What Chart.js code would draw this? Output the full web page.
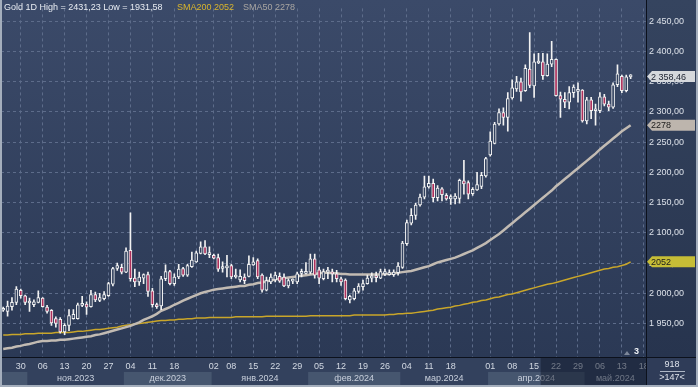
<!DOCTYPE html>
<html>
<head>
<meta charset="utf-8">
<script src="https://cdn.jsdelivr.net/npm/chart.js@4.4.1/dist/chart.umd.min.js"></script>
<style>
  html, body { margin: 0; padding: 0; background: #2f3d59; }
  #wrap { width: 698px; height: 387px; }
</style>
</head>
<body>
<div id="wrap"><canvas id="gold" width="698" height="387"></canvas></div>
<script>
/* ── DATA ─────────────────────────────────────────────── */
const dates = [
  '24.10','25.10','26.10','27.10',
  '30.10','31.10','01.11','02.11','03.11',
  '06.11','07.11','08.11','09.11','10.11',
  '13.11','14.11','15.11','16.11','17.11',
  '20.11','21.11','22.11','23.11','24.11',
  '27.11','28.11','29.11','30.11','01.12',
  '04.12','05.12','06.12','07.12','08.12',
  '11.12','12.12','13.12','14.12','15.12',
  '18.12','19.12','20.12','21.12','22.12',
  '26.12','27.12','28.12','29.12',
  '02.01','03.01','04.01','05.01',
  '08.01','09.01','10.01','11.01','12.01',
  '15.01','16.01','17.01','18.01','19.01',
  '22.01','23.01','24.01','25.01','26.01',
  '29.01','30.01','31.01','01.02','02.02',
  '05.02','06.02','07.02','08.02','09.02',
  '12.02','13.02','14.02','15.02','16.02',
  '19.02','20.02','21.02','22.02','23.02',
  '26.02','27.02','28.02','29.02','01.03',
  '04.03','05.03','06.03','07.03','08.03',
  '11.03','12.03','13.03','14.03','15.03',
  '18.03','19.03','20.03','21.03','22.03',
  '25.03','26.03','27.03','28.03',
  '01.04','02.04','03.04','04.04','05.04',
  '08.04','09.04','10.04','11.04','12.04',
  '15.04','16.04','17.04','18.04','19.04',
  '22.04','23.04','24.04','25.04','26.04',
  '29.04','30.04','01.05','02.05','03.05',
  '06.05','07.05','08.05','09.05','10.05',
  '13.05','14.05','15.05','16.05','17.05','18.05'
];

const opens = [
  1972,1970,1978,1985,2005,1996,1984,1981,1985,1992,
  1977,1972,1958,1957,1936,1947,1958,1958,1980,1982,
  1978,1998,1988,1991,1996,2015,2041,2043,2035,2071,
  2025,2019,2025,2031,2004,1981,1979,2024,2036,2016,
  2027,2041,2030,2044,2052,2066,2077,2064,2063,2059,
  2041,2042,2046,2027,2022,2027,2028,2047,2054,2030,
  2005,2019,2022,2028,2027,2012,2020,2019,2033,2033,
  2035,2057,2039,2024,2035,2034,2032,2024,2022,1989,
  1991,2003,2011,2016,2025,2028,2025,2032,2031,2031,
  2034,2043,2082,2116,2129,2146,2159,2176,2182,2158,
  2173,2162,2156,2156,2157,2186,2183,2165,2171,2177,
  2194,2229,2248,2280,2299,2291,2323,2338,2350,2335,
  2371,2343,2381,2383,2360,2379,2387,2327,2321,2316,
  2332,2334,2336,2285,2320,2302,2302,2325,2313,2308,
  2345,2359,2335,2358
];
const highs = [
  1977,1987,1993,2011,2007,1997,1992,1989,2004,1993,
  1980,1973,1961,1960,1950,1973,1973,1984,1995,1986,
  2005,2002,2000,2003,2018,2043,2050,2048,2075,2133,
  2040,2035,2032,2035,2008,1984,2028,2047,2038,2032,
  2048,2043,2048,2068,2070,2085,2087,2077,2065,2065,
  2052,2063,2048,2040,2039,2032,2062,2059,2057,2032,
  2027,2032,2035,2034,2032,2024,2024,2035,2040,2051,
  2065,2065,2043,2040,2043,2040,2038,2027,2024,1997,
  2008,2016,2022,2030,2034,2035,2040,2040,2039,2039,
  2051,2086,2121,2140,2149,2164,2194,2194,2189,2178,
  2175,2165,2163,2165,2189,2220,2186,2175,2200,2200,
  2225,2267,2283,2305,2307,2332,2353,2359,2356,2378,
  2431.23,2396,2397,2397,2396,2417,2388,2333,2332,2342,
  2345,2348,2337,2324,2324,2313,2332,2329,2318,2348,
  2378,2361,2361,2362
];
const lows = [
  1970,1962,1972,1981,1992,1981,1970,1978,1984,1977,
  1967,1947,1944,1934,1931.58,1938,1957,1957,1978,1965,
  1977,1986,1986,1989,1995,2012,2038,2032,2034,2020,
  2011,2013,2016,1995,1977,1975,1973,2021,2014,2013,
  2024,2028,2028,2043,2051,2065,2064,2059,2057,2036,
  2035,2027,2024,2025,2019,2016,2027,2046,2024,2002,
  2004,2016,2019,2018,2011,2009,2016,2016,2027,2032,
  2032,2025,2016,2022,2024,2019,2019,2013,1989,1984,
  1989,2000,2005,2015,2019,2019,2024,2029,2030,2028,
  2030,2041,2079,2113,2122,2144,2156,2174,2151,2153,
  2153,2154,2147,2148,2149,2164,2156,2162,2170,2173,
  2192,2227,2247,2278,2278,2268,2321,2334,2318,2334,
  2340,2324,2380,2354,2359,2375,2326,2291,2307,2305,
  2324,2316,2283,2280,2289,2278,2299,2310,2302,2306,
  2342,2332,2333,2355
];
const closes = [
  1975,1979,1985,2007,1996,1985,1986,1986,1993,1978,
  1970,1951,1950,1936,1947,1963,1965,1981,1982,1977,
  1998,1989,1993,1998,2016,2041,2046,2035,2070,2024,
  2019,2027,2031,2003,1981,1978,2024,2036,2016,2027,
  2040,2030,2046,2055,2067,2077,2065,2066,2058,2040,
  2044,2045,2027,2029,2028,2021,2048,2052,2027,2005,
  2021,2027,2030,2020,2012,2021,2022,2032,2036,2036,
  2057,2030,2025,2036,2037,2032,2024,2019,1991,1995,
  2004,2012,2016,2025,2029,2026,2036,2036,2034,2035,
  2045,2083,2117,2129,2146,2159,2176,2182,2158,2174,
  2163,2156,2160,2161,2187,2181,2164,2172,2180,2195,
  2223,2252,2280,2299,2291,2322,2340,2350,2333,2372,
  2344,2383,2384,2360,2379,2387,2327,2321,2316,2332,
  2341,2337,2285,2320,2302,2304,2325,2313,2308,2345,
  2363,2335,2358,2358.46
];

const sma50 = [
  1908,1909,1910,1912,1913,1915,1916,1918,1920,1921,
  1921,1922,1922,1923,1923,1924,1925,1926,1927,1928,
  1929,1931,1932,1934,1936,1938,1940,1942,1944,1946,
  1949,1952,1956,1959,1962,1966,1971,1974,1977,1981,
  1984,1988,1991,1994,1997,2000,2002,2004,2006,2007,
  2008,2009,2010,2011,2012,2012,2014,2015,2017,2018,
  2020,2021,2023,2024,2025,2026,2027,2028,2029,2030,
  2031,2032,2033,2034,2034,2033,2033,2032,2032,2031,
  2031,2031,2031,2031,2031,2031,2031,2032,2032,2033,
  2034,2035,2036,2037,2039,2041,2043,2045,2048,2051,
  2053,2055,2057,2059,2062,2065,2068,2071,2075,2079,
  2083,2088,2093,2098,2104,2110,2116,2122,2128,2134,
  2140,2146,2152,2158,2164,2170,2177,2183,2189,2195,
  2201,2207,2213,2219,2225,2231,2238,2244,2250,2256,
  2262,2268,2273,2278
];
const sma200 = [
  1931,1931,1932,1932,1932,1933,1933,1933,1934,1934,
  1934,1934,1935,1935,1935,1935,1936,1937,1937,1938,
  1939,1940,1940,1941,1942,1943,1944,1946,1947,1948,
  1949,1950,1951,1952,1953,1954,1955,1955,1956,1956,
  1957,1957,1958,1958,1959,1959,1959,1960,1960,1960,
  1960,1960,1960,1961,1961,1961,1961,1961,1961,1961,
  1962,1962,1962,1962,1962,1962,1962,1962,1962,1962,
  1963,1963,1963,1963,1963,1963,1963,1963,1963,1963,
  1964,1964,1964,1964,1964,1964,1964,1964,1965,1965,
  1966,1966,1967,1967,1968,1969,1970,1971,1972,1974,
  1975,1976,1977,1979,1980,1982,1983,1985,1986,1988,
  1989,1991,1993,1994,1996,1998,1999,2001,2003,2005,
  2007,2009,2011,2013,2015,2016,2018,2020,2022,2024,
  2026,2028,2030,2032,2034,2036,2038,2040,2041,2043,
  2044,2046,2048,2052
];

const yTicks = [1950, 2000, 2050, 2100, 2150, 2200, 2250, 2300, 2350, 2400, 2450];
const tickIdx  = [4, 9, 14, 19, 24, 29, 34, 39, 44, 48, 52, 57, 62, 67, 72, 77, 82, 87, 92, 97, 102, 107, 111, 116, 121, 126, 131, 136, 141, 146];
const tickText = ['30','06','13','20','27','04','11','18','','02','08','15','22','29','05','12','19','26','04','11','18','','01','08','15','22','29','06','13','18'];
const monthNames = ['окт.2023','ноя.2023','дек.2023','янв.2024','фев.2024','мар.2024','апр.2024','май.2024'];
const shadeFrom = 123;

/* ── HELPERS ──────────────────────────────────────────── */
const FONT = "'Liberation Sans', Arial, sans-serif";
const BEAR = '#ad2f5b';
const HOLLOW = '#33425f';

function fmtPrice(v, dec) {
  const s = v.toFixed(dec).replace('.', ',');
  const intLen = s.indexOf(',') < 0 ? s.length : s.indexOf(',');
  return intLen > 3 ? s.slice(0, intLen - 3) + ' ' + s.slice(intLen - 3) : s;
}

function priceTag(ctx, x, y, text, bg, fg) {
  ctx.beginPath();
  ctx.moveTo(x + 1, y);
  ctx.lineTo(x + 6, y - 5.5);
  ctx.lineTo(x + 49, y - 5.5);
  ctx.lineTo(x + 49, y + 5.5);
  ctx.lineTo(x + 6, y + 5.5);
  ctx.closePath();
  ctx.fillStyle = bg;
  ctx.fill();
  ctx.fillStyle = fg;
  ctx.textAlign = 'left';
  ctx.textBaseline = 'middle';
  ctx.fillText(text, x + 5, y + 0.5);
}

/* ── PANELS / BACKGROUNDS ─────────────────────────────── */
const panels = {
  id: 'panels',
  beforeDraw(chart) {
    const { ctx, chartArea: a, width: W, height: H } = chart;
    const xs = chart.scales.x;
    ctx.save();
    ctx.fillStyle = '#2f3d59';
    ctx.fillRect(0, 0, W, H);

    let g = ctx.createLinearGradient(0, 0, 0, a.bottom);
    g.addColorStop(0, '#3b4a69');
    g.addColorStop(1, '#2b3955');
    ctx.fillStyle = g;
    ctx.fillRect(0, 0, a.right, a.bottom);

    g = ctx.createLinearGradient(0, 0, 0, a.bottom);
    g.addColorStop(0, '#35445f');
    g.addColorStop(1, '#27344e');
    ctx.fillStyle = g;
    ctx.fillRect(a.right, 0, W - a.right, a.bottom);

    ctx.fillStyle = '#33415d';
    ctx.fillRect(0, a.bottom, a.right, H - a.bottom);

    /* month bands */
    const half = (xs.getPixelForValue(1) - xs.getPixelForValue(0)) / 2;
    const starts = [0];
    for (let i = 1; i < dates.length; i++) {
      if (dates[i].slice(3) !== dates[i - 1].slice(3)) starts.push(i);
    }
    ctx.font = '9px ' + FONT;
    ctx.textAlign = 'center';
    ctx.textBaseline = 'middle';
    starts.forEach((s, k) => {
      const x0 = k === 0 ? a.left : xs.getPixelForValue(s) - half;
      const x1 = k + 1 < starts.length ? xs.getPixelForValue(starts[k + 1]) - half : a.right;
      if (k % 2 === 0) {
        ctx.fillStyle = '#46566f';
        ctx.fillRect(x0, 372, x1 - x0, 13);
      }
      const label = monthNames[k];
      if (label && ctx.measureText(label).width + 4 < x1 - x0) {
        ctx.fillStyle = '#c9d0dc';
        ctx.fillText(label, (x0 + x1) / 2, 378.5);
      }
    });
    ctx.restore();
  },
  afterDraw(chart) {
    const { ctx, chartArea: a, width: W, height: H } = chart;
    const xs = chart.scales.x, ys = chart.scales.y;
    const half = (xs.getPixelForValue(1) - xs.getPixelForValue(0)) / 2;
    ctx.save();

    /* dimmed part of time axis */
    const sx = xs.getPixelForValue(shadeFrom) - half;
    ctx.fillStyle = 'rgba(16,24,42,0.5)';
    ctx.fillRect(sx, a.bottom + 1, a.right - sx, H - a.bottom - 1);

    /* corner box */
    ctx.fillStyle = '#2f3c58';
    ctx.fillRect(a.right, a.bottom, W - a.right, H - a.bottom);
    ctx.font = '9px ' + FONT;
    ctx.fillStyle = '#dde2ea';
    ctx.textAlign = 'center';
    ctx.textBaseline = 'middle';
    ctx.fillText('918', 672, 365);
    ctx.fillText('>' + dates.length + '<', 672, 378);
    ctx.fillStyle = '#aeb7c5';
    ctx.fillRect(660, 371, 25, 1);

    /* separators */
    ctx.fillStyle = '#0c111c';
    ctx.fillRect(Math.round(a.right), 0, 1, H);
    ctx.fillRect(0, Math.round(a.bottom), W, 1);

    /* price tags */
    const n = closes.length - 1;
    ctx.font = '9px ' + FONT;
    priceTag(ctx, a.right, ys.getPixelForValue(closes[n]), fmtPrice(closes[n], 2), '#d5d8dc', '#1c2230');
    priceTag(ctx, a.right, ys.getPixelForValue(sma50[n]), String(sma50[n]), '#bdb5ad', '#1c1c1c');
    priceTag(ctx, a.right, ys.getPixelForValue(sma200[n]), String(sma200[n]), '#c6bd36', '#1c1c1c');

    /* header */
    ctx.textAlign = 'left';
    ctx.textBaseline = 'middle';
    ctx.font = '9px ' + FONT;
    const hi = Math.max(...highs), lo = Math.min(...lows);
    ctx.fillStyle = '#e8ecf2';
    ctx.fillText('Gold 1D High = ' + hi.toFixed(2).replace('.', ',') + ' Low = ' + lo.toFixed(2).replace('.', ','), 4, 7.5);
    ctx.fillStyle = '#d9b52c';
    ctx.fillText('SMA200 ' + sma200[n], 177, 7.5);
    ctx.fillStyle = '#a9a6a2';
    ctx.fillText('SMA50 ' + sma50[n], 243, 7.5);

    /* bar counter marker */
    ctx.fillStyle = '#7d8799';
    ctx.beginPath();
    ctx.moveTo(624, 355); ctx.lineTo(627, 351); ctx.lineTo(630, 355); ctx.closePath();
    ctx.fill();
    ctx.fillStyle = '#eef1f5';
    ctx.font = 'bold 9px ' + FONT;
    ctx.fillText('3', 634, 351.5);

    /* outer frame */
    ctx.fillStyle = '#a4aebc';
    ctx.fillRect(0, 0, 2, H);
    ctx.fillRect(W - 2, 0, 2, H);
    ctx.fillRect(0, H - 2, W, 2);
    ctx.restore();
  }
};

/* ── CHART ────────────────────────────────────────────── */
Chart.defaults.font.family = FONT;
Chart.defaults.font.size = 9;

new Chart(document.getElementById('gold').getContext('2d'), {
  type: 'bar',
  data: {
    labels: dates,
    datasets: [
      {
        type: 'line', label: 'SMA200', data: sma200, order: 4,
        borderColor: '#c9a62a', borderWidth: 1.5, pointRadius: 0, tension: 0
      },
      {
        type: 'line', label: 'SMA50', data: sma50, order: 3,
        borderColor: '#c2bbb3', borderWidth: 2.5, pointRadius: 0, tension: 0
      },
      {
        label: 'wick', order: 2, grouped: false,
        data: lows.map((l, i) => [l, highs[i]]),
        backgroundColor: '#f2f2f2', barThickness: 1, borderWidth: 0
      },
      {
        label: 'body', order: 1, grouped: false,
        data: opens.map((o, i) => [o, closes[i]]),
        backgroundColor: opens.map((o, i) => closes[i] >= o ? HOLLOW : BEAR),
        borderColor: '#f2f2f2', borderWidth: 1, borderSkipped: false,
        barThickness: 3, minBarLength: 2
      }
    ]
  },
  options: {
    responsive: false,
    animation: false,
    events: [],
    devicePixelRatio: 1,
    layout: { padding: { left: 1, top: 0, right: 0, bottom: 0 } },
    plugins: { legend: { display: false }, tooltip: { enabled: false } },
    scales: {
      x: {
        offset: true,
        afterFit: s => { s.height = 30; },
        afterBuildTicks: s => { s.ticks = tickIdx.map(v => ({ value: v })); },
        grid: { offset: false, color: '#5d6c8a', lineWidth: 1, drawTicks: false },
        border: { display: false, dash: [3, 3] },
        ticks: {
          autoSkip: false, maxRotation: 0, minRotation: 0, padding: 4,
          color: '#d3d9e3', font: { size: 9 },
          callback: (v, k) => tickText[k]
        }
      },
      y: {
        position: 'right',
        min: 1894.6, max: 2471.3,
        afterFit: s => { s.width = 52; },
        afterBuildTicks: s => { s.ticks = yTicks.map(v => ({ value: v })); },
        grid: { color: '#5d6c8a', lineWidth: 1, drawTicks: false },
        border: { display: false, dash: [3, 3] },
        ticks: {
          padding: 3, color: '#dce1e9', font: { size: 9 },
          callback: v => fmtPrice(v, 2)
        }
      }
    }
  },
  plugins: [panels]
});
</script>
</body>
</html>
